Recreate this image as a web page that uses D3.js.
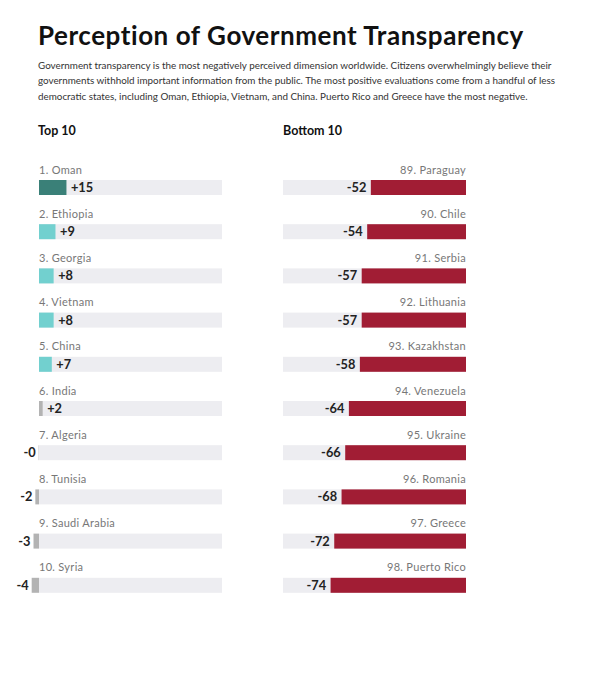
<!DOCTYPE html>
<html><head><meta charset="utf-8">
<script src="https://cdn.jsdelivr.net/npm/d3@7"></script>
<style>
body{margin:0;background:#fff;}
svg{display:block;font-family:Lato,"Open Sans",sans-serif;}
</style></head>
<body><svg id="c" width="604" height="680"></svg>
<script>
const topNames = ["1. Oman","2. Ethiopia","3. Georgia","4. Vietnam","5. China","6. India","7. Algeria","8. Tunisia","9. Saudi Arabia","10. Syria"];
const topValues = [15, 9, 8, 8, 7, 2, -0.2, -2, -3, -4];
const topLabels = ["+15","+9","+8","+8","+7","+2","-0","-2","-3","-4"];
const bottomNames = ["89. Paraguay","90. Chile","91. Serbia","92. Lithuania","93. Kazakhstan","94. Venezuela","95. Ukraine","96. Romania","97. Greece","98. Puerto Rico"];
const bottomValues = [-52, -54, -57, -57, -58, -64, -66, -68, -72, -74];
const bottomLabels = ["-52","-54","-57","-57","-58","-64","-66","-68","-72","-74"];

const svg = d3.select("#c");
svg.append("text").attr("x",38).attr("y",45).attr("font-size",26).attr("letter-spacing",0.55).attr("font-weight",700).attr("fill","#111").text("Perception of Government Transparency");
const sub = ["Government transparency is the most negatively perceived dimension worldwide. Citizens overwhelmingly believe their",
"governments withhold important information from the public. The most positive evaluations come from a handful of less",
"democratic states, including Oman, Ethiopia, Vietnam, and China. Puerto Rico and Greece have the most negative."];
svg.append("g").selectAll("text").data(sub).join("text")
  .attr("x",38).attr("y",(d,i)=>68.5+i*15.6).attr("font-size",9.85).attr("fill","#333").text(d=>d);
svg.append("text").attr("x",38).attr("y",135).attr("font-size",12.5).attr("font-weight",700).attr("fill","#111").text("Top 10");
svg.append("text").attr("x",283).attr("y",135).attr("font-size",12.5).attr("font-weight",700).attr("fill","#111").text("Bottom 10");

const w = d3.scaleLinear().domain([0,100]).range([0,183]);
const y = d3.scaleBand().domain(d3.range(10)).range([158, 600]).paddingInner(0);
const barTop = 22, barH = 15;

function topColor(v){ return v>=10 ? "#3a8078" : v>=5 ? "#72d0cf" : "#b3b3b3"; }

// Left panel
const L = svg.append("g").attr("transform","translate(39,0)");
const lr = L.selectAll("g").data(d3.range(10)).join("g").attr("transform",i=>`translate(0,${y(i)})`);
lr.append("rect").attr("x",0).attr("y",barTop).attr("width",w(100)).attr("height",barH).attr("fill","#ededf1");
lr.append("rect").attr("x",i=>topValues[i]>=0?0:-w(-topValues[i])).attr("y",barTop)
  .attr("width",i=>w(Math.abs(topValues[i]))).attr("height",barH).attr("fill",i=>topColor(topValues[i]));
lr.append("text").attr("x",0).attr("y",15.5).attr("font-size",11).attr("letter-spacing",0.3).attr("fill","#777").text(i=>topNames[i]);
lr.append("text").attr("x",i=>topValues[i]>=0? w(topValues[i])+4.5 : -w(-topValues[i])-3)
  .attr("text-anchor",i=>topValues[i]>=0?"start":"end")
  .attr("y",barTop+barH/2+4.6).attr("font-size",12.8).attr("font-weight",700).attr("fill","#222").text(i=>topLabels[i]);

// Right panel
const R = svg.append("g").attr("transform","translate(466,0)");
const rr = R.selectAll("g").data(d3.range(10)).join("g").attr("transform",i=>`translate(0,${y(i)})`);
rr.append("rect").attr("x",-w(100)).attr("y",barTop).attr("width",w(100)).attr("height",barH).attr("fill","#ededf1");
rr.append("rect").attr("x",i=>-w(-bottomValues[i])).attr("y",barTop)
  .attr("width",i=>w(-bottomValues[i])).attr("height",barH).attr("fill","#a11d34");
rr.append("text").attr("x",0).attr("y",15.5).attr("text-anchor","end").attr("font-size",11).attr("letter-spacing",0.3).attr("fill","#777").text(i=>bottomNames[i]);
rr.append("text").attr("x",i=>-w(-bottomValues[i])-4.5).attr("text-anchor","end")
  .attr("y",barTop+barH/2+4.6).attr("font-size",12.8).attr("font-weight",700).attr("fill","#222").text(i=>bottomLabels[i]);
</script></body></html>
